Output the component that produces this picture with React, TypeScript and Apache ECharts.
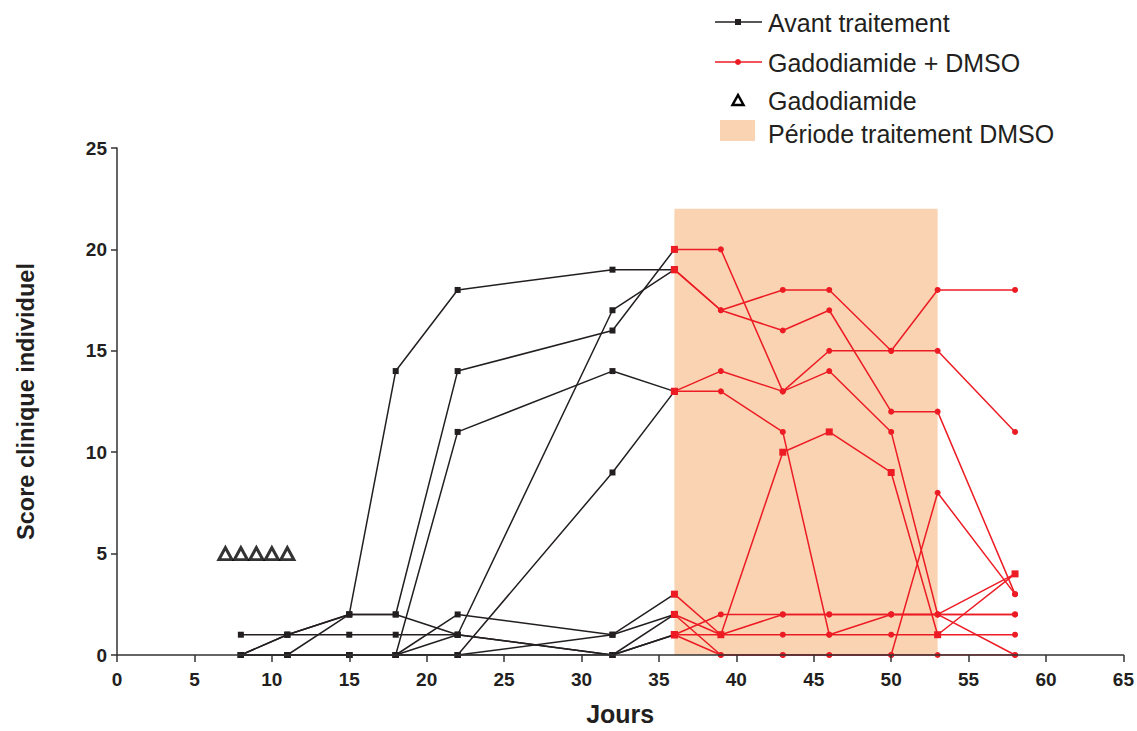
import React, { useEffect, useRef } from "react";
import * as echarts from "echarts";

// Days of measurement
const avantDays = [8, 11, 15, 18, 22, 32, 36];
const dmsoDays = [36, 39, 43, 46, 50, 53, 58];

// Individual clinical scores before treatment (one array per mouse)
const avantMouse1 = [0, 1, 2, 14, 18, 19, 19];
const avantMouse2 = [0, 0, 2, 2, 14, 16, 20];
const avantMouse3 = [0, 0, 0, 0, 11, 14, 13];
const avantMouse4 = [1, 1, 1, 1, 1, 17, 19];
const avantMouse5 = [0, 0, 0, 0, 0, 9, 13];
const avantMouse6 = [0, 0, 0, 0, 2, 1, 3];
const avantMouse7 = [0, 1, 2, 2, 1, 0, 2];
const avantMouse8 = [0, 0, 0, 0, 0, 1, 2];
const avantMouse9 = [0, 0, 0, 0, 0, 0, 1];
const avantMouse10 = [0, 0, 0, 0, 1, 0, 1];
const avantMice = [avantMouse1, avantMouse2, avantMouse3, avantMouse4, avantMouse5, avantMouse6, avantMouse7, avantMouse8, avantMouse9, avantMouse10];

// Individual clinical scores during Gadodiamide + DMSO
const dmsoMouse1 = [19, 17, 18, 18, 15, 18, 18];
const dmsoMouse2 = [19, 17, 16, 17, 12, 12, 3];
const dmsoMouse3 = [20, 20, 13, 15, 15, 15, 11];
const dmsoMouse4 = [13, 14, 13, 14, 11, 2, 4];
const dmsoMouse5 = [13, 13, 11, 1, 2, 2, 2];
const dmsoMouse6 = [3, 1, 10, 11, 9, 1, 4];
const dmsoMouse7 = [2, 0, 0, 0, 0, 8, 3];
const dmsoMouse8 = [2, 1, 2, 2, 2, 2, 0];
const dmsoMouse9 = [1, 2, 2, 2, 2, 2, 2];
const dmsoMouse10 = [1, 1, 1, 1, 1, 1, 1];
const dmsoMouse11 = [1, 0, 0, 0, 0, 0, 0];
const dmsoMice = [dmsoMouse1, dmsoMouse2, dmsoMouse3, dmsoMouse4, dmsoMouse5, dmsoMouse6, dmsoMouse7, dmsoMouse8, dmsoMouse9, dmsoMouse10, dmsoMouse11];
const squareMarkerMouse = 5; // index of the mouse drawn with square markers

// Gadodiamide injections
const gadoDays = [7, 8, 9, 10, 11];
const gadoScore = [5, 5, 5, 5, 5];

// DMSO treatment period
const dmsoStart = 36;
const dmsoEnd = 53;
const dmsoTop = 22;

const BLACK = "#231f20";
const RED = "#ed1c24";
const PEACH = "#f9d3b2";
const FONT = "Arial, 'Liberation Sans', Helvetica, sans-serif";

export default function App() {
  const ref = useRef<HTMLDivElement>(null);
  useEffect(() => {
    if (!ref.current) return;
    const chart = echarts.init(ref.current, null, { renderer: "svg" });

    const series: any[] = [];
    series.push({
      name: "Période traitement DMSO",
      type: "line",
      data: [],
      z: 1,
      silent: true,
      markArea: {
        silent: true,
        itemStyle: { color: PEACH },
        data: [[{ xAxis: dmsoStart, yAxis: 0 }, { xAxis: dmsoEnd, yAxis: dmsoTop }]],
      },
    });
    avantMice.forEach((m) => {
      series.push({
        name: "Avant traitement",
        type: "line",
        z: 3,
        data: avantDays.map((d, i) => [d, m[i]]),
        symbol: "rect",
        symbolSize: 6,
        showAllSymbol: true,
        lineStyle: { color: BLACK, width: 1.5 },
        itemStyle: { color: BLACK },
      });
    });
    dmsoMice.forEach((m, k) => {
      series.push({
        name: "Gadodiamide + DMSO",
        type: "line",
        z: 4,
        data: dmsoDays.map((d, i) =>
          i === 0 ? { value: [d, m[i]], symbol: "rect", symbolSize: 7 } : [d, m[i]]
        ),
        symbol: k === squareMarkerMouse ? "rect" : "circle",
        symbolSize: k === squareMarkerMouse ? 7 : 6,
        showAllSymbol: true,
        lineStyle: { color: RED, width: 1.5 },
        itemStyle: { color: RED },
      });
    });
    series.push({
      name: "Gadodiamide",
      type: "scatter",
      z: 5,
      data: gadoDays.map((d, i) => [d, gadoScore[i]]),
      symbol: "triangle",
      symbolSize: [13, 12],
      itemStyle: { color: "#ffffff", borderColor: "#000000", borderWidth: 3 },
    });

    const legendText = {
      fontSize: 25,
      fontFamily: FONT,
      fill: BLACK,
      verticalAlign: "middle",
      align: "left",
    };

    chart.setOption({
      animation: false,
      backgroundColor: "#ffffff",
      grid: { left: 117, right: 13, top: 148, bottom: 69, containLabel: false },
      xAxis: {
        type: "value",
        min: 0,
        max: 65,
        interval: 5,
        z: 10,
        name: "Jours",
        nameLocation: "middle",
        nameGap: 46,
        nameTextStyle: { fontSize: 25, fontWeight: "bold", fontFamily: FONT, color: BLACK },
        axisLine: { show: true, lineStyle: { color: "#333333", width: 1.5 } },
        axisTick: { show: true, inside: false, length: 7, lineStyle: { color: "#333333", width: 1.5 } },
        axisLabel: { fontSize: 19, fontWeight: "bold", fontFamily: FONT, color: BLACK, margin: 15 },
        splitLine: { show: false },
      },
      yAxis: {
        type: "value",
        min: 0,
        max: 25,
        interval: 5,
        z: 10,
        name: "Score clinique individuel",
        nameLocation: "middle",
        nameGap: 79,
        nameRotate: 90,
        nameTextStyle: { fontSize: 23.5, fontWeight: "bold", fontFamily: FONT, color: BLACK },
        axisLine: { show: true, lineStyle: { color: "#333333", width: 1.5 } },
        axisTick: { show: true, inside: false, length: 6, lineStyle: { color: "#333333", width: 1.5 } },
        axisLabel: { fontSize: 19, fontWeight: "bold", fontFamily: FONT, color: BLACK, margin: 10 },
        splitLine: { show: false },
      },
      series,
      graphic: [
        { type: "line", shape: { x1: 715, y1: 22, x2: 762, y2: 22 }, style: { stroke: BLACK, lineWidth: 1.5 } },
        { type: "rect", shape: { x: 735, y: 19, width: 6, height: 6 }, style: { fill: BLACK } },
        { type: "text", x: 768, y: 23, style: { ...legendText, text: "Avant traitement" } },
        { type: "line", shape: { x1: 715, y1: 62, x2: 762, y2: 62 }, style: { stroke: RED, lineWidth: 1.5 } },
        { type: "circle", shape: { cx: 738, cy: 62, r: 3 }, style: { fill: RED } },
        { type: "text", x: 768, y: 63, style: { ...legendText, text: "Gadodiamide + DMSO" } },
        {
          type: "polygon",
          shape: { points: [[738, 95], [732.5, 105], [743.5, 105]] },
          style: { fill: "#ffffff", stroke: "#000000", lineWidth: 2.5 },
        },
        { type: "text", x: 768, y: 101, style: { ...legendText, text: "Gadodiamide" } },
        { type: "rect", shape: { x: 720, y: 120, width: 35, height: 21 }, style: { fill: PEACH } },
        { type: "text", x: 768, y: 134, style: { ...legendText, text: "Période traitement DMSO" } },
      ],
    });
    return () => chart.dispose();
  }, []);
  return <div ref={ref} style={{ width: 1137, height: 731, position: "absolute", left: 0, top: 0 }} />;
}
